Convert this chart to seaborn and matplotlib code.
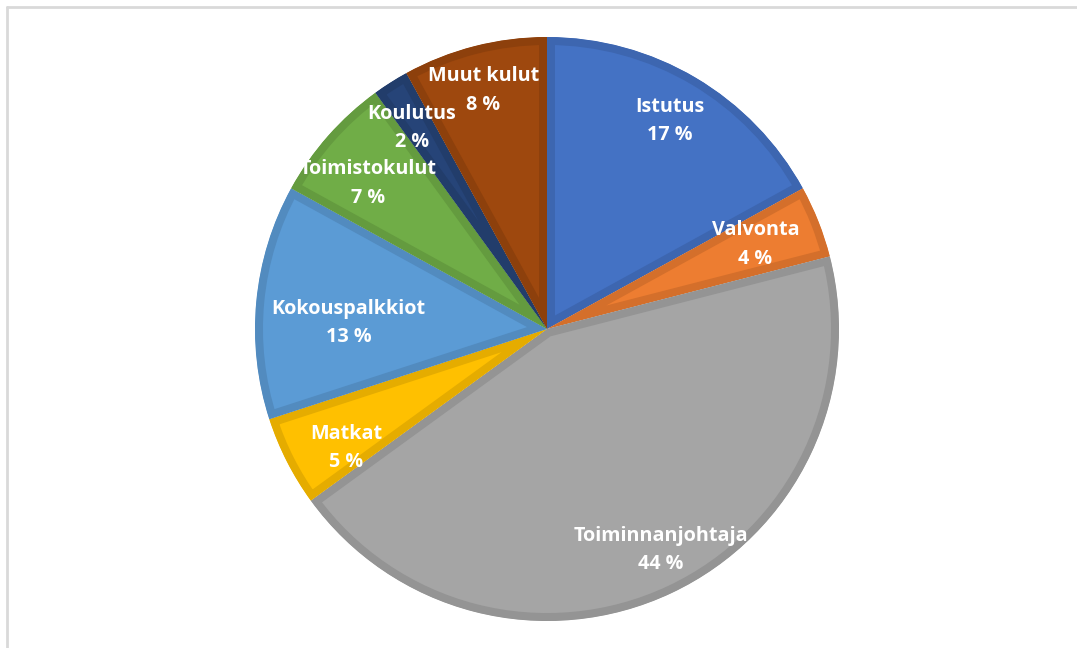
import matplotlib
matplotlib.use("Agg")
import matplotlib.pyplot as plt
import seaborn as sns
import numpy as np
from matplotlib.lines import Line2D

categories = ["Istutus", "Valvonta", "Toiminnanjohtaja", "Matkat",
              "Kokouspalkkiot", "Toimistokulut", "Koulutus", "Muut kulut"]
values = [17, 4, 44, 5, 13, 7, 2, 8]
pct_labels = ["17 %", "4 %", "44 %", "5 %", "13 %", "7 %", "2 %", "8 %"]

fill_colors = ["#4472C4", "#ED7D31", "#A5A5A5", "#FFC000",
               "#5B9BD5", "#70AD47", "#264478", "#9E480E"]
edge_colors = ["#3D66B0", "#D46F2B", "#949494", "#E5AC00",
               "#528BBF", "#649B3F", "#223D6B", "#8D400C"]
label_dist = [0.827, 0.77, 0.85, 0.80, 0.68, 0.79, 0.83, 0.845]
label_shift_deg = [0.0, 0.5, 2.0, 3.6, 3.7, 2.3, 1.5, 0.5]

sns.set_theme(style="white")
plt.rcParams["font.family"] = ["Open Sans", "DejaVu Sans"]

W, H = 1077, 648
fig = plt.figure(figsize=(W / 100, H / 100), dpi=100)
fig.patch.set_facecolor("white")

cx, cy, r = 547, 329, 292
ax = fig.add_axes([(cx - r) / W, (H - cy - r) / H, 2 * r / W, 2 * r / H])

wedges, _ = ax.pie(values, colors=fill_colors, startangle=90, counterclock=False,
                   radius=1, center=(0, 0), frame=False)
ax.set_xlim(-1, 1)
ax.set_ylim(-1, 1)
ax.set_aspect("auto")
ax.axis("off")

for w, ec in zip(wedges, edge_colors):
    w.set_edgecolor(ec)
    w.set_linewidth(11.5)
    w.set_joinstyle("miter")
    w.set_clip_path(w.get_path(), w.get_transform())
    w.set_clip_on(True)

for w, name, pct, d, s in zip(wedges, categories, pct_labels, label_dist, label_shift_deg):
    ang = np.deg2rad((w.theta1 + w.theta2) / 2 + s)
    x, y = d * np.cos(ang), d * np.sin(ang)
    ax.text(x, y, f"{name}\n{pct}", ha="center", va="center", color="white",
            fontsize=14.2, fontweight="bold", linespacing=1.55)

# chart area border (light gray), partially cropped at right/bottom
fig.add_artist(Line2D([6.5 / W, 1.0], [1 - 7 / H, 1 - 7 / H], color="#D9D9D9", lw=2,
                      transform=fig.transFigure))
fig.add_artist(Line2D([6.5 / W, 6.5 / W], [0.0, 1 - 7 / H], color="#D9D9D9", lw=2,
                      transform=fig.transFigure))

fig.savefig("out.png", dpi=100, facecolor="white")
